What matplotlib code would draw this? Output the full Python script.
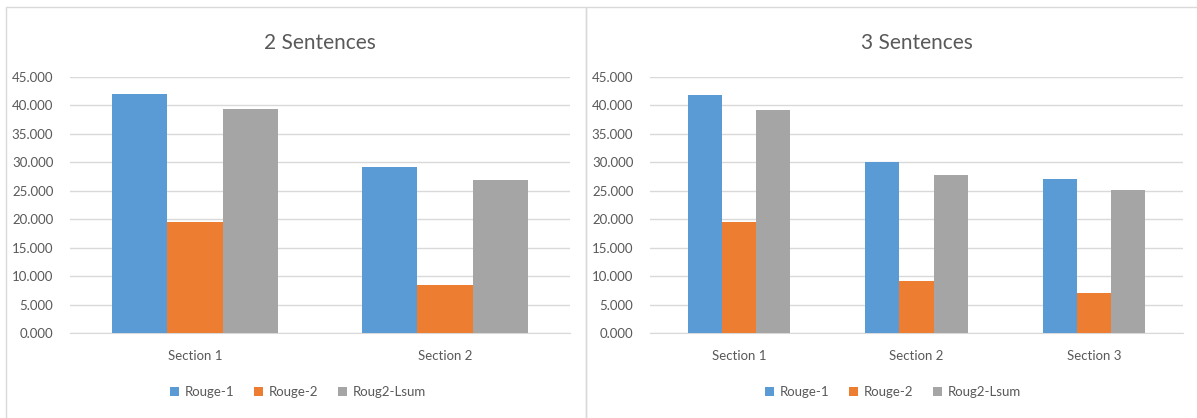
import matplotlib.pyplot as plt
import numpy as np
from matplotlib.patches import Rectangle

plt.rcParams['font.family'] = ['Lato', 'DejaVu Sans']

# data
series = ['Rouge-1', 'Rouge-2', 'Roug2-Lsum']
colors = ['#5B9BD5', '#ED7D31', '#A5A5A5']

sections_2 = ['Section 1', 'Section 2']
rouge1_2 = [42.0, 29.2]
rouge2_2 = [19.5, 8.4]
lsum_2 = [39.4, 26.9]

sections_3 = ['Section 1', 'Section 2', 'Section 3']
rouge1_3 = [41.8, 30.1, 27.1]
rouge2_3 = [19.5, 9.1, 7.0]
lsum_3 = [39.2, 27.8, 25.1]

W, H = 1197, 418
fig = plt.figure(figsize=(W / 100, H / 100), dpi=100)

# panel borders
for x0, x1 in [(6, 586), (586, 1200)]:
    fig.patches.append(Rectangle((x0 / W, -0.05), (x1 - x0) / W, (H - 7) / H + 0.05,
                                 transform=fig.transFigure, fill=False,
                                 edgecolor='#D9D9D9', linewidth=1))


def draw_panel(rect, title, cats, values, group_frac, legend_x):
    ax = fig.add_axes(rect)
    x = np.arange(len(cats))
    bw = group_frac / 3
    for i, (vals, name, c) in enumerate(zip(values, series, colors)):
        ax.bar(x + (i - 1) * bw, vals, bw, color=c, label=name, zorder=3)
    ax.set_xlim(-0.5, len(cats) - 0.5)
    ax.set_ylim(0, 45)
    ax.set_yticks(np.arange(0, 46, 5))
    ax.set_yticklabels(['%.3f' % v for v in np.arange(0, 46, 5)])
    ax.set_xticks(x)
    ax.set_xticklabels(cats)
    ax.grid(axis='y', color='#D9D9D9', linewidth=1, zorder=0)
    for s in ['top', 'right', 'left']:
        ax.spines[s].set_visible(False)
    ax.spines['bottom'].set_color('#D9D9D9')
    ax.tick_params(axis='both', length=0, labelsize=9.5, colors='#595959')
    ax.tick_params(axis='y', pad=12)
    ax.tick_params(axis='x', pad=12)
    ax.set_title(title, fontsize=15, color='#595959', pad=20)
    ax.legend(loc='center', bbox_to_anchor=(legend_x, 26 / H), bbox_transform=fig.transFigure,
              ncol=3, frameon=False, fontsize=9.5, labelcolor='#595959',
              handlelength=0.7, handleheight=0.7, handletextpad=0.4, columnspacing=1.5)
    return ax


draw_panel([70 / W, 85 / H, 500 / W, 256 / H], '2 Sentences', sections_2,
           [rouge1_2, rouge2_2, lsum_2], 0.664, 298 / W)
draw_panel([650 / W, 85 / H, 533 / W, 256 / H], '3 Sentences', sections_3,
           [rouge1_3, rouge2_3, lsum_3], 0.575, 893 / W)

fig.savefig('out.png', dpi=100)
